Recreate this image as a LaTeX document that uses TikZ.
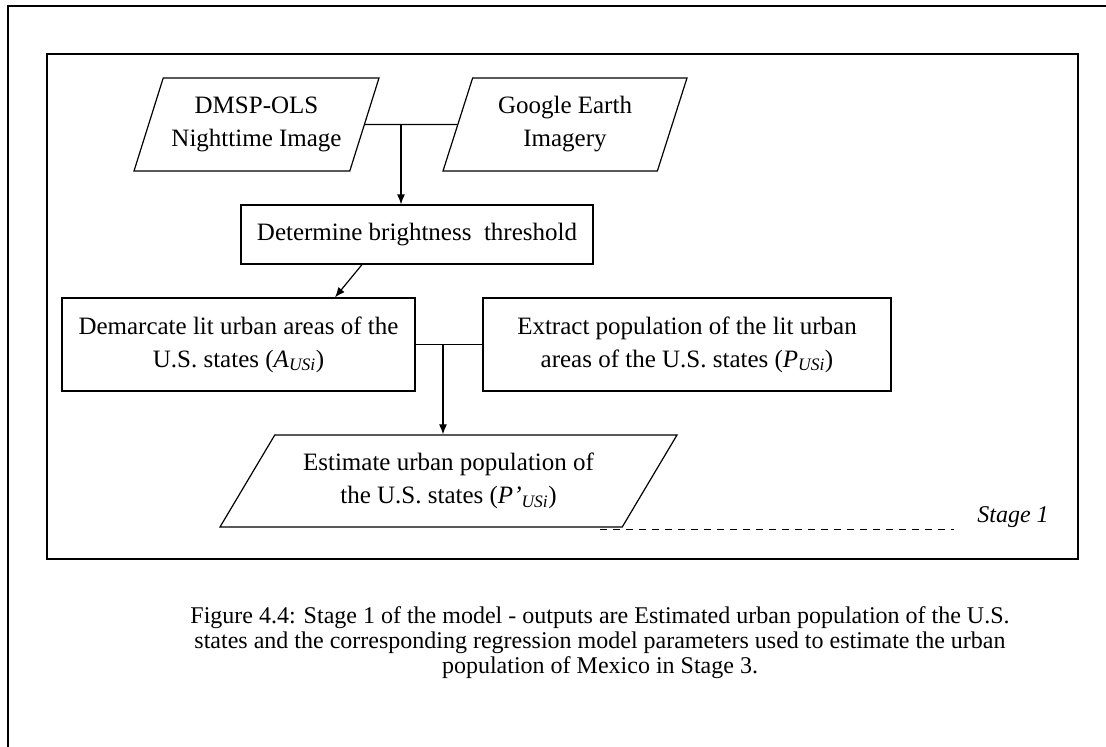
\documentclass[tikz,border=0pt]{standalone}
\usepackage{fontspec}
\setmainfont{Liberation Serif}
\usetikzlibrary{shapes.geometric,arrows.meta}
\begin{document}
\begin{tikzpicture}[x=1pt, y=-1pt, >={Latex[length=10pt,width=8pt]},
		box/.style={draw, line width=1.2pt, align=center, inner sep=0pt, font=\fontsize{25}{33}\selectfont},
		iobox/.style={box, trapezium, trapezium stretches body},
		link/.style={line width=1.2pt}]
			\useasboundingbox (0,0) rectangle (1106,747);
			%frames
			\draw[line width=2pt] (8,747) -- (8,6) -- (1106,6);
			\draw[line width=2pt] (47,54) rectangle (1078,559);
			
			%inputs
			\node[iobox, trapezium left angle=62, trapezium right angle=118, minimum width=245pt, minimum height=93pt] (dmsp) at (256.5,124.5){DMSP-OLS\\Nighttime Image};
			\node[iobox, trapezium left angle=62, trapezium right angle=118, minimum width=244pt, minimum height=93pt] (gearth) at (565,124.5){Google Earth\\Imagery};
			\coordinate (join1) at (401,124.5);
			
			%processing
			\node[box, minimum width=352pt, minimum height=59pt] (thresh) at (417,234.5){Determine brightness \ threshold};
			\node[box, minimum width=353pt, minimum height=93pt] (demarc) at (238.5,344.5){Demarcate lit urban areas of the\\U.S. states (\textit{A}\textsubscript{\textit{USi}})};
			\node[box, minimum width=408pt, minimum height=93pt] (extract) at (687,344.5){Extract population of the lit urban\\areas of the U.S. states (\textit{P}\textsubscript{\textit{USi}})};
			\coordinate (join2) at (443,344.5);
			
			%output
			\node[iobox, trapezium left angle=45.6, trapezium right angle=134.4, minimum width=457pt, minimum height=92pt] (estim) at (448.5,481){Estimate urban population of\\the U.S. states (\textit{P'}\textsubscript{\textit{USi}})};
			
			\draw[link] (dmsp.east) -- (gearth.west);
			\draw[link, ->] (join1) -- (join1 |- thresh.north);
			\draw[link, ->] ([xshift=-55pt]thresh.south) -- ([xshift=96.5pt]demarc.north);
			\draw[link] (demarc.east) -- (extract.west);
			\draw[link, ->] (join2) -- (join2 |- estim.north);
			
			\draw[line width=0.9pt, dash pattern=on 7pt off 6pt] (600,529) -- (954,529);
			\node[font=\fontsize{24}{28}\selectfont\itshape] (stage) at (1013,517){Stage 1};
			
			\node[align=center, font=\fontsize{24}{25}\selectfont] (caption) at (600,643){Figure 4.4: Stage 1 of the model - outputs are Estimated urban population of the U.S.\\states and the corresponding regression model parameters used to estimate the urban\\population of Mexico in Stage 3.};
		\end{tikzpicture}
\end{document}
